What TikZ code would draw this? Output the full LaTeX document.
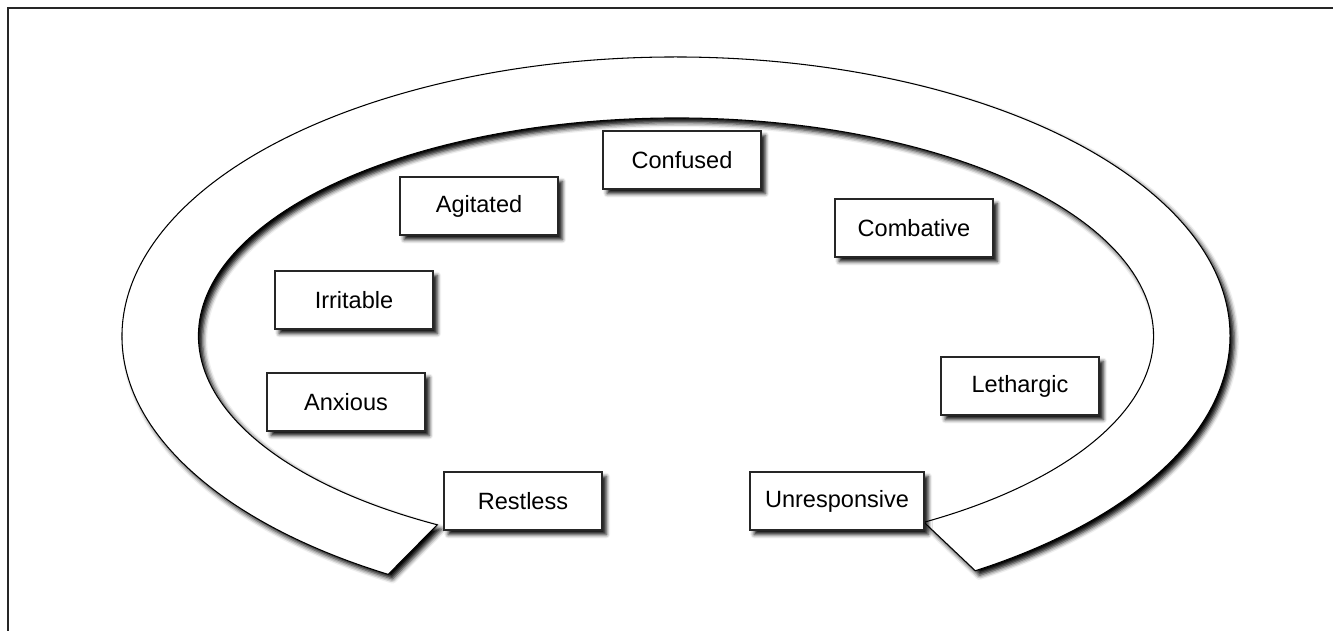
\documentclass[tikz,border=0pt]{standalone}
\usepackage{fontspec}
\setsansfont{Liberation Sans}
\usepackage{tikz}
\usetikzlibrary{calc,shadows.blur,positioning}

\begin{document}
\begin{tikzpicture}[x=0.02cm,y=0.02cm]

\tikzset{
  statebox/.style={rectangle, draw=black!85, fill=white, line width=0.8pt,
                  font=\sffamily\fontsize{13.4}{16}\selectfont,
                  minimum width=3.16cm, minimum height=1.16cm, inner sep=2pt,
                  blur shadow={shadow xshift=2.4pt, shadow yshift=-2.6pt,
                               shadow blur radius=2.2pt, shadow opacity=95}},
  ringband/.style={draw=black, fill=white, line width=0.6pt,
                  blur shadow={shadow xshift=2.4pt, shadow yshift=-2.6pt,
                               shadow blur radius=2.6pt, shadow opacity=100}},
  frameline/.style={black!85, line width=1pt}
}

% Canvas and frame
\useasboundingbox (0,0) rectangle (1333,631);
\draw[frameline] (8,0) -- (8,623) -- (1333,623);

% Band around the states
\coordinate (c) at (676,295);
\path[ringband] ($(c)+(-57.3:554 and 279)$)
  arc[start angle=-57.3, end angle=238.7, x radius=554, y radius=279]
  -- ($(c)+(240:477.5 and 218)$)
  arc[start angle=240, end angle=-58.7, x radius=477.5, y radius=218]
  -- cycle;

% States
\node[statebox] (confused)  at (682,471) {Confused};
\node[statebox] (agitated)  at (479,425) {Agitated};
\node[statebox] (combative) at (914,403) {Combative};
\node[statebox] (irritable) at (354,331) {Irritable};
\node[statebox] (anxious)   at (346,229) {Anxious};
\node[statebox] (lethargic) at (1020,245) {Lethargic};
\node[statebox] (restless)  at (523,130) {Restless};
\node[statebox, minimum width=3.48cm] (unresp) at (837,130) {Unresponsive};

\end{tikzpicture}
\end{document}
